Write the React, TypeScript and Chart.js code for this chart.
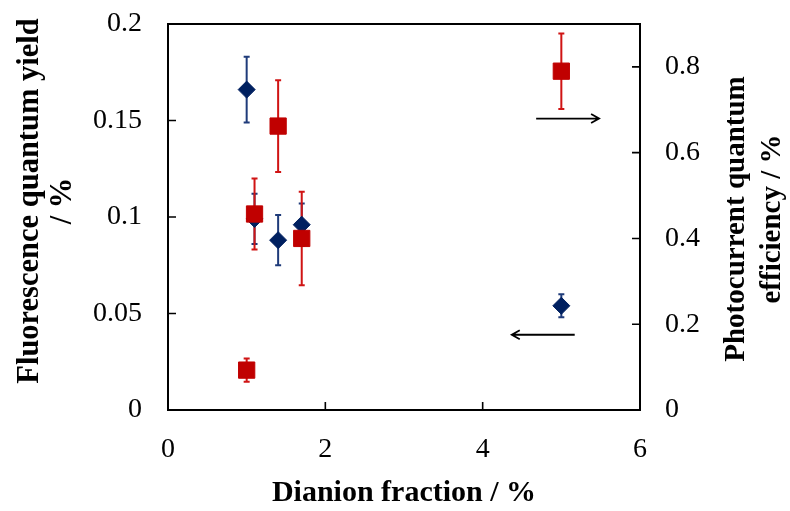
import React, { useEffect, useRef } from "react";
import { Chart, registerables } from "chart.js";

Chart.register(...registerables);

// ---- data ----
const dianionFraction = [1.0, 1.1, 1.4, 1.7, 5.0];
const fluorescenceYield = [0.166, 0.099, 0.088, 0.096, 0.054];
const fluorescenceErr = [0.017, 0.013, 0.013, 0.011, 0.006];
const photocurrentEff = [0.093, 0.457, 0.662, 0.4, 0.79];
const photocurrentErr = [0.027, 0.083, 0.107, 0.109, 0.088];

const xTicksStep = 2;
const leftTickStep = 0.05;
const rightTickStep = 0.2;

const xTitle = "Dianion fraction / %";
const leftTitle = ["Fluorescence quantum yield", "/ %"];
const rightTitle = ["Photocurrent quantum", "efficiency / %"];

// arrows (in x / left-axis units): [xStart, xEnd, y]
const arrowStartX = [4.68, 5.17];
const arrowEndX = [5.48, 4.37];
const arrowY = [0.151, 0.039];

const BLUE = "#002060";
const BLUE_ERR = "#1f3b7a";
const RED = "#c00000";
const RED_ERR = "#d01414";
const SERIF = "'Liberation Serif', 'Times New Roman', serif";

const errorBars = [
  { dataset: 1, values: fluorescenceYield, errs: fluorescenceErr, axis: "y", color: BLUE_ERR },
  { dataset: 0, values: photocurrentEff, errs: photocurrentErr, axis: "y1", color: RED_ERR },
];

const fmt = (v: any) => String(parseFloat(Number(v).toFixed(4)));

const customPlugin = {
  id: "custom",
  beforeDatasetsDraw(chart: any) {
    const ctx = chart.ctx;
    ctx.save();
    for (const eb of errorBars) {
      const meta = chart.getDatasetMeta(eb.dataset);
      const ys = chart.scales[eb.axis];
      ctx.strokeStyle = eb.color;
      ctx.lineWidth = 2;
      meta.data.forEach((pt: any, i: number) => {
        const x = pt.x;
        const y0 = ys.getPixelForValue(eb.values[i] + eb.errs[i]);
        const y1 = ys.getPixelForValue(eb.values[i] - eb.errs[i]);
        ctx.beginPath();
        ctx.moveTo(x, y0);
        ctx.lineTo(x, y1);
        ctx.moveTo(x - 3, y0);
        ctx.lineTo(x + 3, y0);
        ctx.moveTo(x - 3, y1);
        ctx.lineTo(x + 3, y1);
        ctx.stroke();
      });
    }
    ctx.restore();
  },
  afterDatasetsDraw(chart: any) {
    const ctx = chart.ctx;
    const { left, right, top, bottom } = chart.chartArea;
    const { x, y, y1 } = chart.scales;
    ctx.save();
    ctx.strokeStyle = "#000";
    ctx.lineWidth = 2;
    ctx.strokeRect(left, top, right - left, bottom - top);
    const tl = 8;
    ctx.lineWidth = 1.6;
    ctx.beginPath();
    x.ticks.forEach((t: any) => {
      const px = x.getPixelForValue(t.value);
      ctx.moveTo(px, bottom);
      ctx.lineTo(px, bottom - tl);
    });
    y.ticks.forEach((t: any) => {
      const py = y.getPixelForValue(t.value);
      ctx.moveTo(left, py);
      ctx.lineTo(left + tl, py);
    });
    y1.ticks.forEach((t: any) => {
      const py = y1.getPixelForValue(t.value);
      ctx.moveTo(right, py);
      ctx.lineTo(right - tl, py);
    });
    ctx.stroke();

    // arrows
    ctx.lineWidth = 1.8;
    for (let i = 0; i < arrowY.length; i++) {
      const xa = x.getPixelForValue(arrowStartX[i]);
      const xb = x.getPixelForValue(arrowEndX[i]);
      const py = y.getPixelForValue(arrowY[i]);
      const dir = xb > xa ? 1 : -1;
      ctx.beginPath();
      ctx.moveTo(xa, py);
      ctx.lineTo(xb, py);
      ctx.moveTo(xb - dir * 8, py - 4.5);
      ctx.lineTo(xb, py);
      ctx.lineTo(xb - dir * 8, py + 4.5);
      ctx.stroke();
    }
    ctx.restore();
  },
  afterDraw(chart: any) {
    const ctx = chart.ctx;
    ctx.save();
    ctx.fillStyle = "#000";
    ctx.textAlign = "center";
    ctx.textBaseline = "middle";
    const drawRot = (lines: string[], xs: number[], cy: number, size: number) => {
      ctx.font = `bold ${size}px ${SERIF}`;
      lines.forEach((line, i) => {
        ctx.save();
        ctx.translate(xs[i], cy);
        ctx.rotate(-Math.PI / 2);
        ctx.fillText(line, 0, 0);
        ctx.restore();
      });
    };
    drawRot(leftTitle, [30, 63], 201, 30.5);
    drawRot(rightTitle, [737, 773], 219, 29);
    ctx.restore();
  },
};

export default function App() {
  const ref = useRef<HTMLCanvasElement | null>(null);
  useEffect(() => {
    document.body.style.margin = "0";
    const tickFont = { family: SERIF, size: 28 };
    const chart = new Chart(ref.current as HTMLCanvasElement, {
      type: "scatter",
      data: {
        datasets: [
          {
            label: "Photocurrent quantum efficiency",
            data: dianionFraction.map((v, i) => ({ x: v, y: photocurrentEff[i] })),
            yAxisID: "y1",
            pointStyle: "rect",
            pointRadius: 11.5,
            pointHoverRadius: 11.5,
            backgroundColor: RED,
            borderColor: RED,
            borderWidth: 1,
            order: 0,
          },
          {
            label: "Fluorescence quantum yield",
            data: dianionFraction.map((v, i) => ({ x: v, y: fluorescenceYield[i] })),
            yAxisID: "y",
            pointStyle: "rectRot",
            pointRadius: 8.5,
            pointHoverRadius: 8.5,
            backgroundColor: BLUE,
            borderColor: BLUE,
            borderWidth: 1,
            order: 1,
          },
        ],
      },
      options: {
        animation: false,
        responsive: false,
        devicePixelRatio: 1,
        layout: { padding: { top: 24, left: 0, right: 0, bottom: 0 } },
        plugins: { legend: { display: false }, tooltip: { enabled: false } },
        scales: {
          x: {
            type: "linear",
            position: "bottom",
            min: 0,
            max: 6,
            ticks: { stepSize: xTicksStep, font: tickFont, color: "#000", padding: 0, maxRotation: 0, callback: fmt },
            grid: { display: false, drawTicks: true, tickLength: 23 },
            border: { display: false },
            title: {
              display: true,
              text: xTitle,
              color: "#000",
              font: { family: SERIF, size: 30, weight: "bold" },
              padding: { top: 0, bottom: 0 },
            },
            afterFit: (s: any) => {
              s.height = 101;
            },
          },
          y: {
            type: "linear",
            position: "left",
            min: 0,
            max: 0.2,
            ticks: { stepSize: leftTickStep, font: tickFont, color: "#000", padding: 0, callback: fmt },
            grid: { display: false, drawTicks: true, tickLength: 26 },
            border: { display: false },
            afterFit: (s: any) => {
              s.width = 168;
            },
          },
          y1: {
            type: "linear",
            position: "right",
            min: 0,
            max: 0.9,
            ticks: { stepSize: rightTickStep, includeBounds: false, font: tickFont, color: "#000", padding: 0, callback: fmt },
            grid: { display: false, drawTicks: true, tickLength: 25 },
            border: { display: false },
            afterFit: (s: any) => {
              s.width = 150;
            },
          },
        },
      },
      plugins: [customPlugin],
    } as any);
    return () => chart.destroy();
  }, []);
  return <canvas ref={ref} width={790} height={511} style={{ display: "block" }} />;
}
